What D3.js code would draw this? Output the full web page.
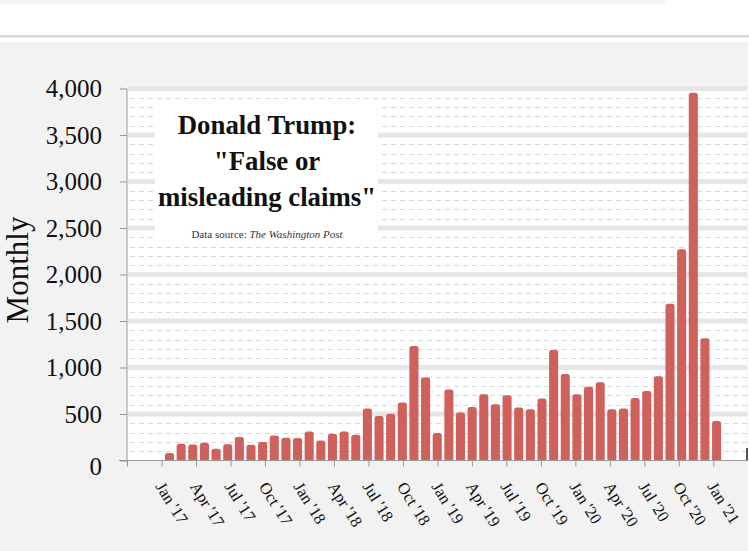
<!DOCTYPE html>
<html>
<head>
<meta charset="utf-8">
<script src="https://cdn.jsdelivr.net/npm/d3@7"></script>
<style>
  html, body { margin: 0; padding: 0; background: #ffffff; }
  svg { display: block; }
  text { font-family: "Liberation Serif", "Times New Roman", serif; }
</style>
</head>
<body>
<svg id="chart" width="749" height="551"></svg>
<script>
// ---- data ----
const months = [
  "2017-01","2017-02","2017-03","2017-04","2017-05","2017-06","2017-07","2017-08","2017-09","2017-10","2017-11","2017-12",
  "2018-01","2018-02","2018-03","2018-04","2018-05","2018-06","2018-07","2018-08","2018-09","2018-10","2018-11","2018-12",
  "2019-01","2019-02","2019-03","2019-04","2019-05","2019-06","2019-07","2019-08","2019-09","2019-10","2019-11","2019-12",
  "2020-01","2020-02","2020-03","2020-04","2020-05","2020-06","2020-07","2020-08","2020-09","2020-10","2020-11","2020-12"
];
const claims = [
  80, 180, 173, 191, 126, 176, 252, 169, 198, 270, 245, 241,
  313, 216, 288, 313, 277, 558, 479, 504, 623, 1231, 893, 295,
  763, 515, 576, 713, 605, 702, 569, 551, 666, 1188, 929, 713,
  792, 842, 551, 558, 673, 748, 907, 1685, 2271, 3953, 1314, 424
];
const xTickMonths = [-3, 0, 3, 6, 9, 12, 15, 18, 21, 24, 27, 30, 33, 36, 39, 42, 45, 48];
const xTickLabels = ["", "Jan '17", "Apr '17", "Jul '17", "Oct '17", "Jan '18", "Apr '18", "Jul '18", "Oct '18",
  "Jan '19", "Apr '19", "Jul '19", "Oct '19", "Jan '20", "Apr '20", "Jul '20", "Oct '20", "Jan '21"];
const yMajorTicks = [0, 500, 1000, 1500, 2000, 2500, 3000, 3500, 4000];
const yMinorTicks = d3.range(100, 4000, 100).filter(v => v % 500 !== 0);
const yAxisTitle = "Monthly";
const titleLines = ["Donald Trump:", "\"False or", "misleading claims\""];
const sourceLabel = "Data source: ";
const sourceName = "The Washington Post";

// ---- layout ----
const svg = d3.select("#chart");
const plotLeft = 127, plotRight = 747, plotBottom = 460.5;

// page decoration
svg.append("rect").attr("x", 0).attr("y", 0).attr("width", 665).attr("height", 4.5).attr("fill", "#f1f4f8");
svg.append("rect").attr("x", 0).attr("y", 35).attr("width", 749).attr("height", 2).attr("fill", "#d6d6d6");
svg.append("rect").attr("x", 0).attr("y", 37).attr("width", 749).attr("height", 1).attr("fill", "#ececec");
svg.append("rect").attr("x", 0).attr("y", 42).attr("width", 748).attr("height", 509).attr("fill", "#f2f2f2");

const y = d3.scaleLinear().domain([0, 4000]).range([plotBottom, 88.5]);
const xTick = d3.scaleLinear().domain([-3, 48]).range([plotLeft, 713.3]);
const xBand = d3.scaleBand().domain(months).range([163.7, 722.4]).paddingInner(0.22).paddingOuter(0.11);

// plot background
svg.append("rect")
  .attr("x", plotLeft).attr("y", y(4000) - 3)
  .attr("width", plotRight - plotLeft).attr("height", plotBottom - y(4000) + 3)
  .attr("fill", "#ffffff");

// minor dashed gridlines
svg.append("g").selectAll("line").data(yMinorTicks).join("line")
  .attr("x1", plotLeft + 3).attr("x2", plotRight)
  .attr("y1", d => Math.round(y(d)) + 0.5).attr("y2", d => Math.round(y(d)) + 0.5)
  .attr("stroke", "#d8d8d8").attr("stroke-width", 1).attr("stroke-dasharray", "5,4");

// major gridlines (thick light bands)
svg.append("g").selectAll("line").data(yMajorTicks.filter(d => d > 0)).join("line")
  .attr("x1", plotLeft + 1).attr("x2", plotRight)
  .attr("y1", d => y(d)).attr("y2", d => y(d))
  .attr("stroke", "#e6e6e6").attr("stroke-width", 5);

// title box
svg.append("rect").attr("x", 155).attr("y", 101).attr("width", 223).attr("height", 142).attr("fill", "#ffffff");
const tb = svg.append("g");
tb.selectAll("text.t").data(titleLines).join("text")
  .attr("class", "t")
  .attr("x", 267).attr("y", (d, i) => 133.5 + i * 36)
  .attr("text-anchor", "middle")
  .attr("font-size", 26.8).attr("font-weight", "bold").attr("fill", "#111")
  .text(d => d);
const src = tb.append("text").attr("x", 267).attr("y", 238).attr("text-anchor", "middle")
  .attr("font-size", 11).attr("fill", "#333");
src.append("tspan").text(sourceLabel);
src.append("tspan").attr("font-style", "italic").text(sourceName);

// bars
function barPath(x0, w, yTop, yBase, r) {
  r = Math.min(r, w / 2, (yBase - yTop));
  return `M${x0},${yBase}V${yTop + r}Q${x0},${yTop} ${x0 + r},${yTop}H${x0 + w - r}Q${x0 + w},${yTop} ${x0 + w},${yTop + r}V${yBase}Z`;
}
svg.append("g").selectAll("path").data(months.map((m, i) => ({ m, v: claims[i] }))).join("path")
  .attr("d", d => barPath(xBand(d.m), xBand.bandwidth(), y(d.v), plotBottom, 2.5))
  .attr("fill", "#cf615d");

// y axis
const yAxis = d3.axisLeft(y).tickValues(yMajorTicks).tickSize(7).tickPadding(18)
  .tickFormat(d => d3.format(",")(d));
const gy = svg.append("g").attr("transform", `translate(${plotLeft},0)`).call(yAxis);
gy.select(".domain").attr("stroke", "#999").attr("d", `M0,${plotBottom + 2}V${y(4000)}`);
gy.selectAll(".tick line").attr("stroke", "#999");
gy.selectAll(".tick text").attr("font-size", 25).attr("fill", "#111")
  .attr("font-family", "'Liberation Serif', 'Times New Roman', serif");
gy.selectAll(".tick").filter(d => d === 0).select("text").attr("dy", "0.55em");

// x axis
const xAxis = d3.axisBottom(xTick).tickValues(xTickMonths).tickSize(6).tickFormat((d, i) => xTickLabels[i]);
const gx = svg.append("g").attr("transform", `translate(0,${plotBottom})`).call(xAxis);
gx.select(".domain").attr("stroke", "#999").attr("d", `M119,0H${plotRight}`);
gx.selectAll(".tick line").attr("stroke", "#999");
gx.selectAll(".tick text")
  .attr("font-size", 16.5).attr("fill", "#111")
  .attr("font-family", "'Liberation Serif', 'Times New Roman', serif")
  .attr("text-anchor", "start")
  .attr("transform", "translate(-2,23) rotate(58)")
  .attr("x", 0).attr("y", 0).attr("dy", "0.35em");

// right edge marker
svg.append("line").attr("x1", 747).attr("x2", 747).attr("y1", 448).attr("y2", plotBottom)
  .attr("stroke", "#555").attr("stroke-width", 2);

// y axis title
svg.append("text")
  .attr("transform", "translate(28,270) rotate(-90)")
  .attr("text-anchor", "middle")
  .attr("font-size", 31).attr("fill", "#111")
  .text(yAxisTitle);
</script>
</body>
</html>
